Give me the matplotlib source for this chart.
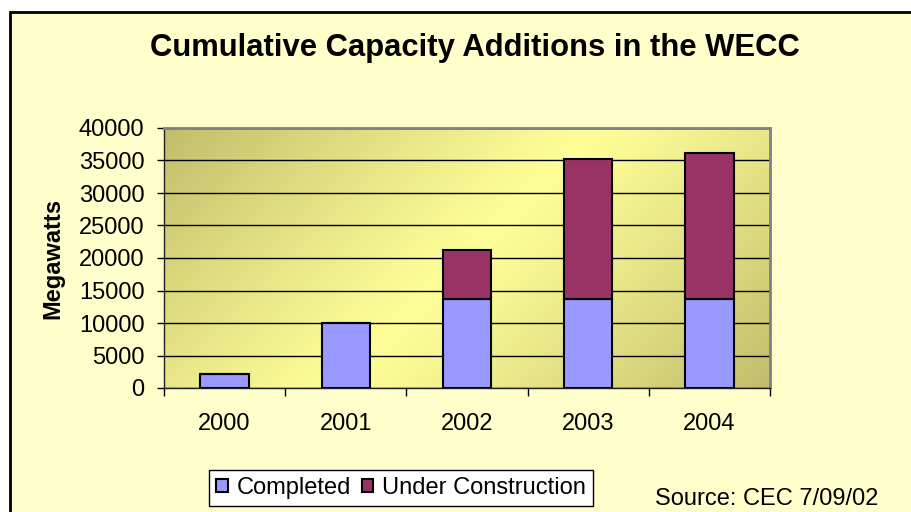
import numpy as np
import matplotlib
matplotlib.use("Agg")
import matplotlib.pyplot as plt
from matplotlib.patches import Rectangle

plt.rcParams['font.family'] = ['Liberation Sans', 'DejaVu Sans']

# data
years = ['2000', '2001', '2002', '2003', '2004']
completed = [2100, 10000, 13700, 13700, 13700]
under_construction = [0, 0, 7600, 21600, 22500]
y_ticks = [0, 5000, 10000, 15000, 20000, 25000, 30000, 35000, 40000]

fig = plt.figure(figsize=(9.11, 5.12), dpi=100, facecolor='white')

# outer chart frame
fig.patches.append(Rectangle((10 / 911, -0.02), 1.0, 1 - 12 / 512 + 0.02,
                             transform=fig.transFigure, facecolor='#FFFFCC',
                             edgecolor='black', linewidth=2, zorder=-5))

ax = fig.add_axes([164 / 911, 1 - 388 / 512, 606 / 911, 260 / 512])
ax.set_facecolor('none')

# diagonal gradient for plot area (dark corners top-left / bottom-right)
nx, ny = 300, 130
gx, gy = np.meshgrid(np.linspace(0, 1, nx), np.linspace(1, 0, ny))
t = (gx * 606 + (1 - gy) * 260) / (606 + 260)
dark = np.array([0.76, 0.74, 0.42])
light = np.array([1.0, 1.0, 0.60])
w = np.clip(np.abs(t - 0.5) * 2, 0, 1) ** 1.1
img = light[None, None, :] * (1 - w[..., None]) + dark[None, None, :] * w[..., None]
ax.imshow(img, extent=[0, 1, 0, 1], transform=ax.transAxes, aspect='auto', zorder=0)

x = np.arange(len(years))
ax.bar(x, completed, width=0.4, color='#9999FF', edgecolor='black', linewidth=1.5,
       label='Completed', zorder=2)
ax.bar(x, under_construction, width=0.4, bottom=completed, color='#993366',
       edgecolor='black', linewidth=1.5, label='Under Construction', zorder=2)

ax.set_xlim(-0.5, len(years) - 0.5)
ax.set_ylim(0, 40000)
ax.set_yticks(y_ticks)
ax.set_yticklabels([str(v) for v in y_ticks], fontsize=17)
ax.yaxis.grid(True, color='black', linewidth=1)
ax.set_axisbelow(True)

ax.set_xticks(x)
ax.set_xticklabels(years, fontsize=17)
ax.set_xticks(np.arange(len(years) + 1) - 0.5, minor=True)
ax.tick_params(axis='x', which='major', length=0, pad=18)
ax.tick_params(axis='x', which='minor', length=6, width=1, direction='out')
ax.tick_params(axis='y', length=5, width=1, pad=9)

for s in ['top', 'right']:
    ax.spines[s].set_color('#808080')
    ax.spines[s].set_linewidth(2)
for s in ['left', 'bottom']:
    ax.spines[s].set_color('#202020')
    ax.spines[s].set_linewidth(1)

ax.set_ylabel('Megawatts', fontsize=17, fontweight='bold')
ax.yaxis.set_label_coords(-0.165, 0.5)

fig.text(475 / 911, 1 - 48 / 512, 'Cumulative Capacity Additions in the WECC',
         ha='center', va='center', fontsize=22.3, fontweight='bold')

leg = fig.legend(loc='center', bbox_to_anchor=(401 / 911, 1 - 488 / 512),
                 ncol=2, fontsize=17, frameon=True, fancybox=False,
                 handlelength=0.5, handleheight=0.5, handletextpad=0.35,
                 columnspacing=0.45, borderpad=0.3, borderaxespad=0)
leg.get_frame().set_edgecolor('black')
leg.get_frame().set_facecolor('white')
leg.get_frame().set_linewidth(1)
leg.get_frame().set_alpha(1)

fig.text(878 / 911, 1 - 505 / 512, 'Source: CEC 7/09/02', ha='right', va='baseline',
         fontsize=17)

fig.savefig('out.png', dpi=100)
